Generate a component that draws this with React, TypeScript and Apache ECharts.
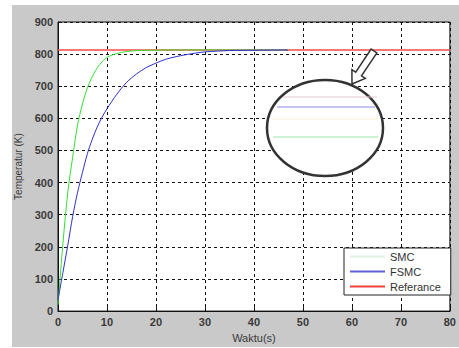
import React, { useEffect, useRef } from "react";
import * as echarts from "echarts";

// Time samples (s) and temperature responses (K)
const timeSec = [0, 1, 2, 3, 4, 5, 6, 7, 8, 9, 10, 12, 14, 16, 18, 20, 22, 25, 28, 30, 35, 40, 47];
const smcTemp = [20, 210, 370, 480, 580, 645, 695, 730, 757, 776, 790, 802, 808, 811, 812, 812, 813, 813, 813, 813, 813, 813, 813];
const fsmcTemp = [35, 120, 205, 295, 370, 432, 490, 535, 573, 604, 630, 675, 712, 738, 758, 772, 784, 795, 803, 807, 811, 812, 813];
const refTime = [0, 80];
const refTemp = [813, 813];

const xTicks = [0, 10, 20, 30, 40, 50, 60, 70, 80];
const yTicks = [0, 100, 200, 300, 400, 500, 600, 700, 800, 900];

const toPairs = (xs: number[], ys: number[]) => xs.map((x, i) => [x, ys[i]]);

export default function App() {
  const ref = useRef<HTMLDivElement>(null);

  useEffect(() => {
    if (!ref.current) return;
    const chart = echarts.init(ref.current, undefined, { renderer: "svg" });
    const labelStyle = {
      color: "#3a3a3a",
      fontSize: 11,
      fontWeight: "bold" as const,
      fontFamily: "Liberation Sans, Arial, sans-serif",
    };
    const gridLine = { show: true, lineStyle: { color: "#111", type: [3, 3] as any, width: 1 } };

    chart.setOption({
      animation: false,
      backgroundColor: "transparent",
      grid: {
        left: 58,
        top: 22,
        right: 1,
        bottom: 33,
        show: true,
        backgroundColor: "#ffffff",
        borderColor: "#111",
        borderWidth: 1,
      },
      xAxis: {
        type: "value",
        min: xTicks[0],
        max: xTicks[xTicks.length - 1],
        interval: 10,
        name: "Waktu(s)",
        nameLocation: "middle",
        nameGap: 19,
        nameTextStyle: { ...labelStyle, fontWeight: "normal" },
        axisLine: { show: true, onZero: false, lineStyle: { color: "#111" } },
        axisTick: { show: true, inside: true, length: 4, lineStyle: { color: "#111" } },
        axisLabel: { ...labelStyle, margin: 5 },
        splitLine: gridLine,
      },
      yAxis: {
        type: "value",
        min: yTicks[0],
        max: yTicks[yTicks.length - 1],
        interval: 100,
        name: "Temperatur (K)",
        nameLocation: "middle",
        nameGap: 35,
        nameTextStyle: { ...labelStyle, fontSize: 10, fontWeight: "normal" },
        axisLine: { show: true, lineStyle: { color: "#111" } },
        axisTick: { show: true, inside: true, length: 4, lineStyle: { color: "#111" } },
        axisLabel: { ...labelStyle, margin: 5 },
        splitLine: gridLine,
      },
      legend: {
        left: 344,
        top: 248,
        orient: "vertical",
        backgroundColor: "#ffffff",
        borderColor: "#222",
        borderWidth: 1,
        borderRadius: 0,
        padding: [3, 10, 3, 6],
        itemGap: 4,
        itemWidth: 35,
        itemHeight: 2,
        icon: "rect",
        textStyle: { color: "#333", fontSize: 11, fontFamily: "Liberation Sans, Arial, sans-serif" },
        data: [
          { name: "SMC", itemStyle: { color: "#e0f2e0" } },
          { name: "FSMC", itemStyle: { color: "#6060d8" } },
          { name: "Referance", itemStyle: { color: "#f04040" } },
        ],
      },
      series: [
        {
          name: "Referance",
          type: "line",
          data: toPairs(refTime, refTemp),
          showSymbol: false,
          lineStyle: { color: "#ff4a4a", width: 1.5 },
          itemStyle: { color: "#ff4a4a" },
          z: 3,
        },
        {
          name: "SMC",
          type: "line",
          data: toPairs(timeSec, smcTemp),
          showSymbol: false,
          smooth: 0.3,
          lineStyle: { color: "#33e033", width: 1 },
          itemStyle: { color: "#33e033" },
          z: 4,
        },
        {
          name: "FSMC",
          type: "line",
          data: toPairs(timeSec, fsmcTemp),
          showSymbol: false,
          smooth: 0.3,
          lineStyle: { color: "#2f2fd0", width: 1 },
          itemStyle: { color: "#2f2fd0" },
          z: 5,
        },
      ],
      graphic: [
        {
          type: "ellipse",
          shape: { cx: 325, cy: 128, rx: 58, ry: 48 },
          style: { fill: "#ffffff", stroke: "#333", lineWidth: 2.5 },
          z: 100,
        },
        { type: "line", shape: { x1: 283, y1: 97, x2: 377, y2: 97 }, style: { stroke: "#e6c8d2", lineWidth: 1 }, z: 101 },
        { type: "line", shape: { x1: 277, y1: 107, x2: 375, y2: 107 }, style: { stroke: "#8a8ae6", lineWidth: 1 }, z: 101 },
        { type: "line", shape: { x1: 272, y1: 119, x2: 378, y2: 119 }, style: { stroke: "#f3efd2", lineWidth: 1 }, z: 101 },
        { type: "line", shape: { x1: 273, y1: 137, x2: 378, y2: 137 }, style: { stroke: "#9ce6a8", lineWidth: 1 }, z: 101 },
        {
          type: "polygon",
          shape: {
            points: [
              [376.9, 52.9],
              [361.5, 75.9],
              [365.3, 78.4],
              [352, 84],
              [351.9, 69.6],
              [355.7, 72.1],
              [371.1, 49.1],
            ],
          },
          style: { fill: "#ffffff", stroke: "#333", lineWidth: 1.5 },
          z: 102,
        },
      ],
    });
    return () => chart.dispose();
  }, []);

  return (
    <div style={{ position: "fixed", left: 0, top: 0, width: 459, height: 348, background: "#ffffff" }}>
      <div style={{ position: "absolute", left: 12, top: 5, width: 447, height: 342, background: "#c9c9c9" }} />
      <div ref={ref} style={{ position: "absolute", left: 0, top: 0, width: 459, height: 348 }} />
    </div>
  );
}
